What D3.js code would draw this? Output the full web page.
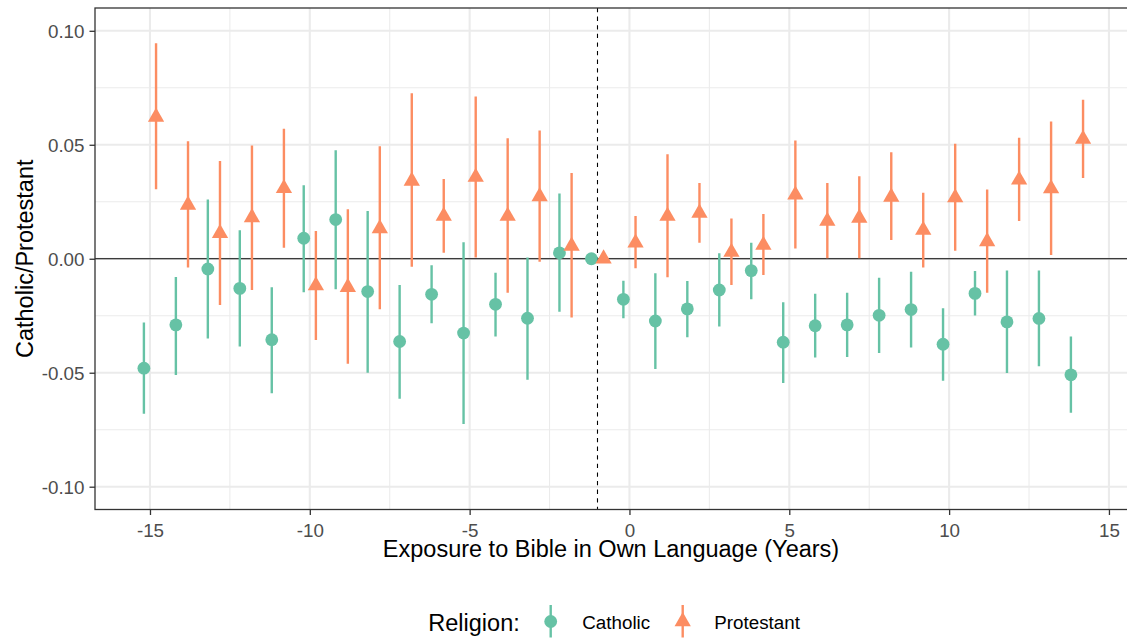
<!DOCTYPE html>
<html>
<head>
<meta charset="utf-8">
<script src="https://cdn.jsdelivr.net/npm/d3@7"></script>
<style>
	html, body {margin: 0; padding: 0; background: #fff;}
	svg {display: block; font-family: 'Liberation Sans', Arial, sans-serif;}
</style>
</head>
<body>
<div id="chart"></div>
<script>
'use strict';

// event time, years relative to first Bible in own language
var years = [-15, -14, -13, -12, -11, -10, -9, -8, -7, -6, -5, -4, -3, -2, -1,
	0, 1, 2, 3, 4, 5, 6, 7, 8, 9, 10, 11, 12, 13, 14];

var catholicEst = [-0.048, -0.029, -0.0045, -0.013, -0.0355, 0.009, 0.0172, -0.0144, -0.0363, -0.0156,
	-0.0326, -0.020, -0.0261, 0.0026, 0, -0.0178, -0.0273, -0.022, -0.0137, -0.0052,
	-0.0366, -0.0294, -0.029, -0.0248, -0.0223, -0.0375, -0.0152, -0.0277, -0.0262, -0.0509];
var catholicLo = [-0.068, -0.051, -0.035, -0.0385, -0.059, -0.0147, -0.0134, -0.050, -0.0614, -0.0283,
	-0.0725, -0.0341, -0.0531, -0.0232, 0, -0.0261, -0.0484, -0.0344, -0.0297, -0.0178,
	-0.0545, -0.0433, -0.0431, -0.0414, -0.0389, -0.0535, -0.0249, -0.0501, -0.0472, -0.0676];
var catholicHi = [-0.028, -0.008, 0.026, 0.0125, -0.0125, 0.0322, 0.0476, 0.021, -0.0115, -0.0028,
	0.0072, -0.0061, 0.0006, 0.0286, 0, -0.0096, -0.0064, -0.0098, 0.0024, 0.0070,
	-0.0191, -0.0154, -0.0149, -0.0083, -0.0057, -0.0217, -0.0054, -0.0052, -0.0052, -0.0341];

var protestantEst = [0.0622, 0.0236, 0.0112, 0.0181, 0.0309, -0.0118, -0.0125, 0.0133, 0.0341, 0.0187,
	0.0358, 0.0187, 0.0273, 0.0056, 0, 0.007, 0.0187, 0.0201, 0.0029, 0.006,
	0.028, 0.0165, 0.0179, 0.0271, 0.0126, 0.0268, 0.0076, 0.0346, 0.0308, 0.0525];
var protestantLo = [0.0305, -0.0038, -0.0203, -0.0137, 0.0048, -0.0356, -0.0461, -0.0221, -0.0035, 0.0026,
	0.0006, -0.0149, -0.0013, -0.0258, 0, -0.0042, -0.0081, 0.007, -0.0115, -0.0071,
	0.0045, 0.0002, 0.0002, 0.0082, -0.0038, 0.0035, -0.0149, 0.0166, 0.0016, 0.0354];
var protestantHi = [0.0945, 0.0516, 0.0429, 0.0497, 0.057, 0.0122, 0.0217, 0.0493, 0.0726, 0.035,
	0.0712, 0.0529, 0.0563, 0.0376, 0, 0.0188, 0.0458, 0.0332, 0.0177, 0.0196,
	0.0519, 0.0332, 0.0362, 0.0467, 0.029, 0.0505, 0.0304, 0.0531, 0.0602, 0.0697];

var xTicks = [-15, -10, -5, 0, 5, 10, 15];
var xMinor = [-12.5, -7.5, -2.5, 2.5, 7.5, 12.5];
var yTicks = [-0.10, -0.05, 0.00, 0.05, 0.10];
var yTickLabels = ['-0.10', '-0.05', '0.00', '0.05', '0.10'];
var yMinor = [-0.075, -0.025, 0.025, 0.075];
var religions = ['Catholic', 'Protestant'];
var colors = ['#66C2A5', '#FC8D62'];
var dodge = [-0.19, 0.19];
var referenceYear = -1;

(function() {
	var W = 1127, H = 639;
	var panel = {left: 95, right: 1131, top: 8, bottom: 509.5};
	var tickFont = 18.8, titleFont = 23.5;

	var svg = d3.select('#chart').append('svg')
		.attr('width', W).attr('height', H);

	var x = d3.scaleLinear().domain([-16.72, 15.69]).range([panel.left, panel.right]);
	var y = d3.scaleLinear().domain([-0.11, 0.11]).range([panel.bottom, panel.top]);

	var series = [
		{name: religions[0], color: colors[0], shape: 'circle', dx: dodge[0],
			est: catholicEst, lo: catholicLo, hi: catholicHi},
		{name: religions[1], color: colors[1], shape: 'triangle', dx: dodge[1],
			est: protestantEst, lo: protestantLo, hi: protestantHi}];

	var clip = svg.append('defs').append('clipPath').attr('id', 'panel-clip')
		.append('rect')
		.attr('x', panel.left).attr('y', panel.top)
		.attr('width', panel.right - panel.left).attr('height', panel.bottom - panel.top);

	var g = svg.append('g').attr('clip-path', 'url(#panel-clip)');

	// grid
	g.selectAll('.xminor').data(xMinor).enter().append('line')
		.attr('x1', x).attr('x2', x).attr('y1', panel.top).attr('y2', panel.bottom)
		.attr('stroke', '#EBEBEB').attr('stroke-width', 1.05);
	g.selectAll('.yminor').data(yMinor).enter().append('line')
		.attr('y1', y).attr('y2', y).attr('x1', panel.left).attr('x2', panel.right)
		.attr('stroke', '#EBEBEB').attr('stroke-width', 1.05);
	g.selectAll('.xmajor').data(xTicks).enter().append('line')
		.attr('x1', x).attr('x2', x).attr('y1', panel.top).attr('y2', panel.bottom)
		.attr('stroke', '#EBEBEB').attr('stroke-width', 2.1);
	g.selectAll('.ymajor').data(yTicks).enter().append('line')
		.attr('y1', y).attr('y2', y).attr('x1', panel.left).attr('x2', panel.right)
		.attr('stroke', '#EBEBEB').attr('stroke-width', 2.1);

	// reference lines
	g.append('line')
		.attr('x1', panel.left).attr('x2', panel.right)
		.attr('y1', y(0)).attr('y2', y(0))
		.attr('stroke', '#000').attr('stroke-width', 1.1);
	g.append('line')
		.attr('x1', x(referenceYear)).attr('x2', x(referenceYear))
		.attr('y1', panel.top).attr('y2', panel.bottom)
		.attr('stroke', '#000').attr('stroke-width', 1.1)
		.attr('stroke-dasharray', '4.3,4.3');

	var triR = 9.4;
	function trianglePath(cx, cy, r) {
		var hw = r * Math.sqrt(3) / 2;
		return 'M' + cx + ',' + (cy - r) +
			'L' + (cx + hw) + ',' + (cy + r / 2) +
			'L' + (cx - hw) + ',' + (cy + r / 2) + 'Z';}

	series.forEach(function(s) {
		var sg = g.append('g').attr('class', 'series');
		years.forEach(function(t, i) {
			var px = x(t + s.dx);
			if (s.lo[i] !== s.hi[i]) {
				sg.append('line')
					.attr('x1', px).attr('x2', px)
					.attr('y1', y(s.lo[i])).attr('y2', y(s.hi[i]))
					.attr('stroke', s.color).attr('stroke-width', 2.4);}
			if ('circle' === s.shape) {
				sg.append('circle')
					.attr('cx', px).attr('cy', y(s.est[i])).attr('r', 6.4)
					.attr('fill', s.color);}
			else {
				sg.append('path')
					.attr('d', trianglePath(px, y(s.est[i]), triR))
					.attr('fill', s.color);}});});

	// panel border
	svg.append('rect')
		.attr('x', panel.left).attr('y', panel.top)
		.attr('width', panel.right - panel.left).attr('height', panel.bottom - panel.top)
		.attr('fill', 'none').attr('stroke', '#333333').attr('stroke-width', 1.3);

	// axes
	var xAxis = svg.append('g')
		.attr('transform', 'translate(0,' + panel.bottom + ')')
		.call(d3.axisBottom(x).tickValues(xTicks).tickSize(5.5).tickPadding(6)
			.tickFormat(function(d) {return String(d).replace('\u2212', '-');}));
	var yAxis = svg.append('g')
		.attr('transform', 'translate(' + panel.left + ',0)')
		.call(d3.axisLeft(y).tickValues(yTicks).tickSize(5.5).tickPadding(5)
			.tickFormat(function(d, i) {return yTickLabels[i];}));

	[xAxis, yAxis].forEach(function(ax) {
		ax.select('.domain').remove();
		ax.selectAll('.tick line').attr('stroke', '#333333').attr('stroke-width', 1.3);
		ax.selectAll('.tick text')
			.attr('fill', '#4D4D4D')
			.style('font-size', tickFont + 'px')
			.style('font-family', "'Liberation Sans', Arial, sans-serif");});
	xAxis.selectAll('.tick text').attr('dy', null).attr('y', 27.5);
	yAxis.selectAll('.tick text').attr('dy', '0.35em');

	// axis titles
	svg.append('text')
		.attr('x', (panel.left + 1127) / 2).attr('y', 556.5)
		.attr('text-anchor', 'middle')
		.style('font-size', titleFont + 'px')
		.text('Exposure to Bible in Own Language (Years)');
	svg.append('text')
		.attr('transform', 'translate(33,' + ((panel.top + panel.bottom) / 2) + ') rotate(-90)')
		.attr('text-anchor', 'middle')
		.style('font-size', titleFont + 'px')
		.text('Catholic/Protestant');

	// legend
	var legend = svg.append('g').attr('class', 'legend');
	legend.append('text')
		.attr('x', 428.3).attr('y', 631)
		.style('font-size', titleFont + 'px')
		.text('Religion:');
	var keyX = [550.7, 682.7], keyY = 621.5;
	series.forEach(function(s, i) {
		legend.append('line')
			.attr('x1', keyX[i]).attr('x2', keyX[i])
			.attr('y1', keyY - 16.5).attr('y2', keyY + 16)
			.attr('stroke', s.color).attr('stroke-width', 2.4);
		if ('circle' === s.shape) {
			legend.append('circle')
				.attr('cx', keyX[i]).attr('cy', keyY).attr('r', 6.4)
				.attr('fill', s.color);}
		else {
			legend.append('path')
				.attr('d', trianglePath(keyX[i], keyY, triR))
				.attr('fill', s.color);}
		legend.append('text')
			.attr('x', keyX[i] + 31.6).attr('y', 628.5)
			.style('font-size', tickFont + 'px')
			.text(s.name);});
})();
</script>
</body>
</html>
